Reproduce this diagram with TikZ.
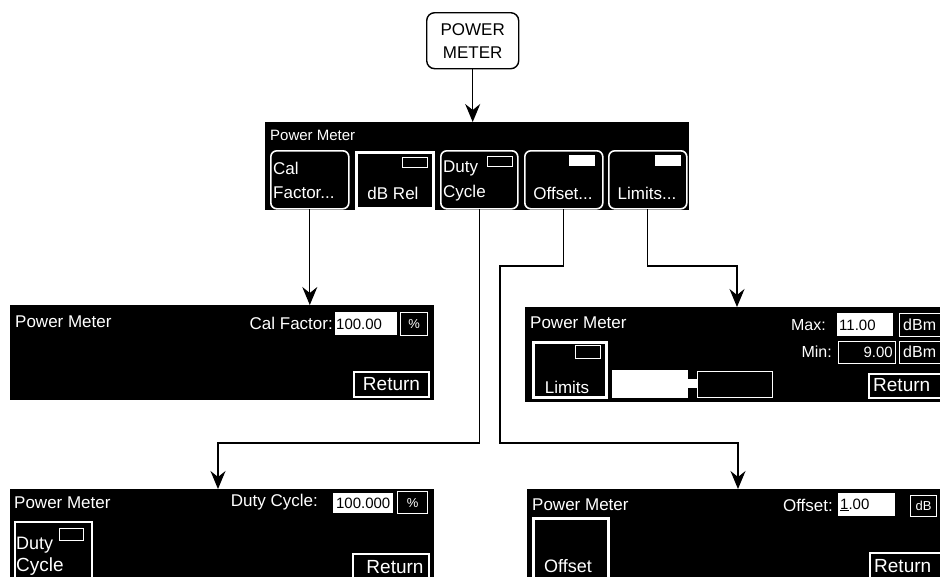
\documentclass[tikz,border=0pt]{standalone}
\usepackage{fontspec}
\setmainfont{Liberation Sans}
\usetikzlibrary{arrows.meta}
\newcommand\bx[7][]{\node[inner sep=0, anchor=north west, minimum width={#5-#3}, minimum height={#6-#4}, #1] (#2) at (#3,#4) {#7};}
\newcommand\fsz[1]{\fontsize{#1}{#1}\selectfont}
\begin{document}
\begin{tikzpicture}[x=1pt,y=-1pt,
  panel/.style={fill=black, draw=black},
  skey/.style={draw=white, line width=1.6pt, rounded corners=6pt},
  sqkey/.style={draw=white, line width=2.8pt},
  wout/.style={draw=white, line width=1.2pt},
  wfill/.style={fill=white},
  wt/.style={text=white, inner sep=0},
  bt/.style={text=black, inner sep=0},
  conn/.style={draw=black, line width=1.2pt},
  arr/.style={conn, -{Stealth[length=18pt,width=15pt,inset=6pt]}},
]
\useasboundingbox (0,0) rectangle (940,576);
\clip (0,0) rectangle (940,576);
\fill[white] (0,0) rectangle (940,576);

% top key
\bx[draw=black, line width=1.4pt, rounded corners=8pt, align=center, text=black, font=\fontsize{17}{23}\selectfont]{pm}{426}{12}{518}{68}{POWER\\METER}

% menu bar
\bx[panel]{bar}{265}{122}{688}{209}{}
\node[wt, anchor=west, font=\fsz{15}] (bart) at (270,135) {Power Meter};
\bx[skey]{k1}{270}{150}{348}{208}{}
\bx[sqkey]{k2}{355}{151}{432}{207}{}
\bx[skey]{k3}{440}{150}{517}{208}{}
\bx[skey]{k4}{524}{150}{602}{208}{}
\bx[skey]{k5}{608}{150}{686}{208}{}
\bx[wout]{k2i}{402}{157}{427}{167}{}
\bx[wout]{k3i}{487}{156}{512}{166}{}
\bx[wfill]{k4i}{569}{155}{595}{166}{}
\bx[wfill]{k5i}{655}{155}{681}{166}{}
\node[wt, anchor=west, font=\fsz{17}] (k1a) at (273,168) {Cal};
\node[wt, anchor=west, font=\fsz{17}] (k1b) at (273,193) {Factor...};
\node[wt, font=\fsz{17}] (k2a) at (393,193) {dB Rel};
\node[wt, anchor=west, font=\fsz{17}] (k3a) at (443,168) {Duty};
\node[wt, anchor=west, font=\fsz{17}] (k3b) at (443,193) {Cycle};
\node[wt, font=\fsz{17}] (k4a) at (563,193) {Offset...};
\node[wt, font=\fsz{17}] (k5a) at (647,193) {Limits...};

% Cal Factor panel
\bx[panel]{calp}{10}{305}{433}{399}{}
\node[wt, anchor=west, font=\fsz{17}] (calt) at (15,322) {Power Meter};
\node[wt, anchor=east, font=\fsz{17}] (call) at (333,323) {Cal Factor:};
\bx[wfill]{calv}{335}{312}{397}{335}{}
\node[bt, anchor=west, font=\fsz{15}] (calvt) at (336,324) {100.00};
\bx[wout, text=white, font=\fsz{13}]{calu}{400}{312}{427}{335}{\%}
\bx[wout, line width=2pt, text=white, font=\fsz{19}]{calr}{353}{371}{428}{396}{Return}

% Limits panel
\bx[panel]{limp}{525}{307}{950}{401}{}
\node[wt, anchor=west, font=\fsz{17}] (limt) at (530,323) {Power Meter};
\bx[sqkey]{lk}{532}{341}{605}{396}{}
\bx[wout]{lki}{575}{345}{600}{358}{}
\node[wt, font=\fsz{17}] (lkt) at (567,387) {Limits};
\bx[wfill, draw=white, line width=0.8pt]{lb1}{612}{370}{687}{397}{}
\bx[wfill]{lb2}{687}{379}{697}{388}{}
\bx[wout]{lb3}{697}{371}{772}{397}{}
\node[wt, anchor=east, font=\fsz{16}] (maxl) at (826,325) {Max:};
\bx[wfill]{maxv}{837}{313}{893}{336}{}
\node[bt, anchor=west, font=\fsz{15}] (maxvt) at (839,325) {11.00};
\bx[wout]{maxu}{899}{313}{950}{336}{}
\node[wt, anchor=west, font=\fsz{16}] (maxut) at (903,325) {dBm};
\node[wt, anchor=east, font=\fsz{16}] (minl) at (832,352) {Min:};
\bx[wout]{minv}{838}{341}{895}{363}{}
\node[wt, anchor=east, font=\fsz{15}] (minvt) at (893,352) {9.00};
\bx[wout]{minu}{899}{341}{950}{363}{}
\node[wt, anchor=west, font=\fsz{16}] (minut) at (903,352) {dBm};
\bx[wout, line width=2pt]{limr}{868}{373}{950}{397}{}
\node[wt, anchor=west, font=\fsz{19}] (limrt) at (873,385) {Return};

% Duty Cycle panel
\bx[panel]{dutyp}{10}{489}{433}{590}{}
\node[wt, anchor=west, font=\fsz{17}] (dutyt) at (14,503) {Power Meter};
\node[wt, anchor=east, font=\fsz{17}] (dutyl) at (318,502) {Duty Cycle:};
\bx[wfill, text=black, font=\fsz{15}]{dutyv}{333}{493}{393}{513}{100.000}
\bx[wout, text=white, font=\fsz{13}]{dutyu}{397}{491}{427}{513}{\%}
\bx[draw=white, line width=2pt]{dk}{14}{521}{91}{590}{}
\bx[wout]{dki}{59}{528}{83}{540}{}
\node[wt, anchor=west, font=\fsz{18}] (dka) at (16,545) {Duty};
\node[wt, anchor=west, font=\fsz{19}] (dkb) at (16,567) {Cycle};
\bx[wout, line width=2pt]{dutyr}{352}{553}{428}{590}{}
\node[wt, font=\fsz{19}] (dutyrt) at (395,567) {Return};

% Offset panel
\bx[panel]{offp}{527}{489}{950}{590}{}
\node[wt, anchor=west, font=\fsz{17}] (offt) at (532,505) {Power Meter};
\node[wt, anchor=east, font=\fsz{17}] (offl) at (833,505) {Offset:};
\bx[wfill]{offv}{838}{493}{895}{516}{}
\node[bt, anchor=west, font=\fsz{15}] (offvt) at (840,505) {\underline{1}.00};
\bx[wout, text=white, font=\fsz{13}]{offu}{910}{495}{936}{516}{dB}
\bx[draw=white, line width=2.5pt]{ok}{532}{517}{607}{590}{}
\node[wt, font=\fsz{18}] (okt) at (568,566) {Offset};
\bx[wout, line width=2pt]{offr}{869}{552}{950}{590}{}
\node[wt, anchor=west, font=\fsz{19}] (offrt) at (874,566) {Return};

% connectors
\coordinate (dj) at (218,443);
\coordinate (oj1) at (500,266);
\coordinate (oj2) at (738,443);
\coordinate (lj) at (737,266);
\draw[arr] (pm.south) -- (pm.south |- bar.north);
\draw[arr] (k1.south |- bar.south) -- (k1.south |- calp.north);
\draw[arr] (k3.south |- bar.south) |- (dj) -- (dj |- dutyp.north);
\draw[arr] (k4.south |- bar.south) |- (oj1) |- (oj2) -- (oj2 |- offp.north);
\draw[arr] (k5.south |- bar.south) |- (lj) -- (lj |- limp.north);
\end{tikzpicture}
\end{document}
